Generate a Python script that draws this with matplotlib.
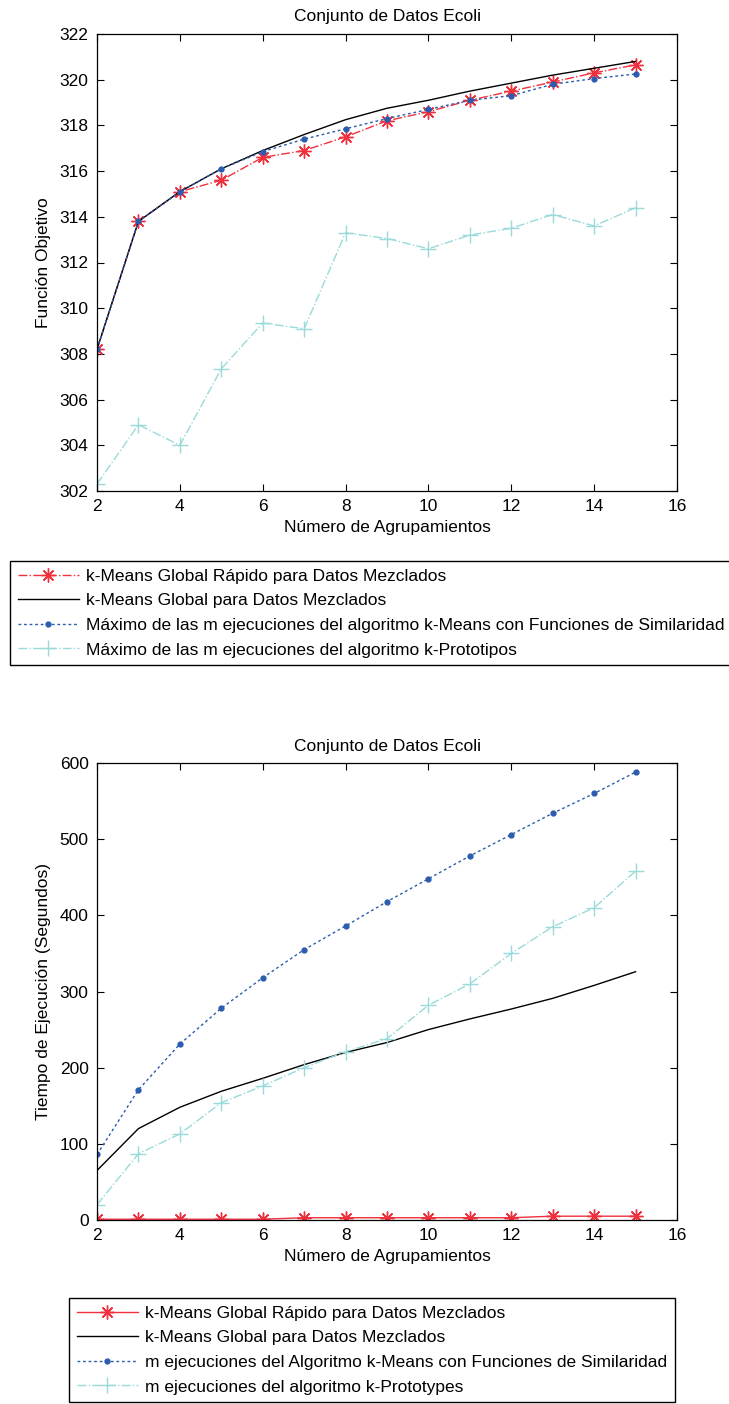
import matplotlib
matplotlib.use('Agg')
import matplotlib.pyplot as plt

plt.rcParams['font.family'] = ['Liberation Sans', 'DejaVu Sans']
plt.rcParams['font.size'] = 12.5

# numero de agrupamientos
k = [2, 3, 4, 5, 6, 7, 8, 9, 10, 11, 12, 13, 14, 15]

# funcion objetivo (grafica de arriba)
obj_rapido = [308.2, 313.8, 315.1, 315.6, 316.6, 316.9, 317.5, 318.2, 318.6, 319.1, 319.5, 319.9, 320.3, 320.65]
obj_global = [308.2, 313.8, 315.1, 316.1, 316.9, 317.6, 318.25, 318.75, 319.1, 319.5, 319.85, 320.2, 320.5, 320.8]
obj_simil = [308.2, 313.8, 315.1, 316.1, 316.85, 317.4, 317.85, 318.3, 318.7, 319.1, 319.3, 319.8, 320.05, 320.25]
obj_proto = [302.3, 304.9, 304.0, 307.35, 309.35, 309.1, 313.3, 313.05, 312.6, 313.2, 313.5, 314.1, 313.6, 314.4]

# tiempo de ejecucion (grafica de abajo)
t_rapido = [1, 1, 1, 1, 1, 3, 3, 3, 3, 3, 3, 5, 5, 5]
t_global = [65, 120, 148, 169, 186, 204, 220, 233, 250, 264, 277, 291, 308, 326]
t_simil = [86, 171, 231, 278, 318, 355, 386, 418, 448, 478, 506, 534, 560, 588]
t_proto = [20, 87, 113, 154, 176, 200, 221, 238, 282, 310, 350, 385, 410, 458]

labels_top = ['k-Means Global Rápido para Datos Mezclados',
              'k-Means Global para Datos Mezclados',
              'Máximo de las m ejecuciones del algoritmo k-Means con Funciones de Similaridad',
              'Máximo de las m ejecuciones del algoritmo k-Prototipos']
labels_bot = ['k-Means Global Rápido para Datos Mezclados',
              'k-Means Global para Datos Mezclados',
              'm ejecuciones del Algoritmo k-Means con Funciones de Similaridad',
              'm ejecuciones del algoritmo k-Prototypes']

ROJO = '#f0303c'
AZUL = '#2b5cae'
CIAN = '#9adada'
ASTER = (8, 2, 0)   # asterisco tipo matlab

W, H = 729, 1404
fig = plt.figure(figsize=(W / 100, H / 100), dpi=100)
fig.patch.set_facecolor('white')

def estilo(ax):
    ax.tick_params(direction='in', top=True, right=True, length=5, width=0.8, pad=6)
    for s in ax.spines.values():
        s.set_linewidth(0.9)
    ax.set_xlim(2, 16)
    ax.set_xticks(range(2, 17, 2))

leg_kw = dict(loc='upper left', borderaxespad=0, fancybox=False, edgecolor='black',
              framealpha=1, handlelength=3.5, handletextpad=0.45, labelspacing=0.54,
              borderpad=0.45)

ax1 = fig.add_axes([97 / W, 1 - 491 / H, 580 / W, 457 / H])
l1, = ax1.plot(k, obj_rapido, color=ROJO, ls='-.', marker=ASTER, ms=10, mew=1, lw=1)
l2, = ax1.plot(k, obj_global, color='black', ls='-', lw=1)
l3, = ax1.plot(k, obj_simil, color=AZUL, ls=(0, (2, 2)), marker='.', ms=7, lw=1)
l4, = ax1.plot(k, obj_proto, color=CIAN, ls='-.', marker='+', ms=12, lw=1)
estilo(ax1)
ax1.set_ylim(302, 322)
ax1.set_yticks(range(302, 323, 2))
ax1.set_title('Conjunto de Datos Ecoli', fontsize=12.5, pad=9)
ax1.set_xlabel('Número de Agrupamientos', labelpad=4)
ax1.set_ylabel('Función Objetivo', labelpad=6)

fig.legend([l1, l2, l3, l4], labels_top, bbox_to_anchor=(10 / W, 1 - 561 / H), **leg_kw)

ax2 = fig.add_axes([97 / W, 1 - 1220 / H, 580 / W, 457 / H])
m1, = ax2.plot(k, t_rapido, color=ROJO, ls='-', marker=ASTER, ms=10, mew=1, lw=1)
m2, = ax2.plot(k, t_global, color='black', ls='-', lw=1)
m3, = ax2.plot(k, t_simil, color=AZUL, ls=(0, (2, 2)), marker='.', ms=7, lw=1)
m4, = ax2.plot(k, t_proto, color=CIAN, ls='-.', marker='+', ms=12, lw=1)
estilo(ax2)
ax2.set_ylim(0, 600)
ax2.set_yticks(range(0, 601, 100))
ax2.set_title('Conjunto de Datos Ecoli', fontsize=12.5, pad=9)
ax2.set_xlabel('Número de Agrupamientos', labelpad=4)
ax2.set_ylabel('Tiempo de Ejecución (Segundos)', labelpad=6)

fig.legend([m1, m2, m3, m4], labels_bot, bbox_to_anchor=(69 / W, 1 - 1298 / H), **leg_kw)

fig.savefig('out.png', dpi=100)
